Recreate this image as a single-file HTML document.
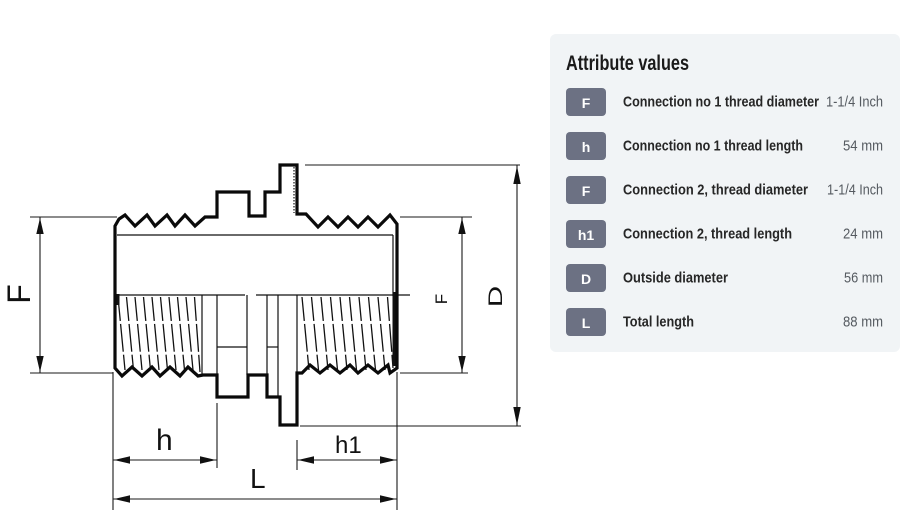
<!DOCTYPE html>
<html>
<head>
<meta charset="utf-8">
<style>
  html,body{margin:0;padding:0;background:#ffffff;}
  svg{display:block;}
</style>
</head>
<body>
<svg width="915" height="528" viewBox="0 0 915 528" xmlns="http://www.w3.org/2000/svg">
  <rect x="0" y="0" width="915" height="528" fill="#ffffff"/>

  <!-- ===== Technical drawing ===== -->
  <!-- thin internal lines -->
  <g stroke="#111" stroke-width="1.2" fill="none">
    <line x1="117" y1="235" x2="393" y2="235"/>
    <line x1="393" y1="235" x2="393" y2="296"/>
    <line x1="116" y1="295" x2="245" y2="295"/>
    <line x1="256" y1="295" x2="410" y2="295"/>
    <line x1="202" y1="295" x2="202" y2="374"/>
    <line x1="217" y1="295" x2="217" y2="375"/>
    <line x1="247" y1="295" x2="247" y2="375"/>
    <line x1="267" y1="295" x2="267" y2="375"/>
    <line x1="278" y1="295" x2="278" y2="397"/>
    <line x1="297" y1="295" x2="297" y2="375"/>
    <line x1="217" y1="347" x2="247" y2="347"/>
    <line x1="267" y1="347" x2="278" y2="347"/>
    <line x1="294" y1="167" x2="294" y2="213" stroke-dasharray="1.5 1.5"/>
  </g>

  <!-- thread hatching -->
  <g stroke="#111" stroke-width="1.3" fill="none" stroke-dasharray="24 3 28 3 20 2">
    <path d="M118 297 L125 370 M126.5 297 L133.5 370 M135 297 L142 370 M143.5 297 L150.5 370 M152 297 L159 370 M160.5 297 L167.5 370 M169 297 L176 370 M177.5 297 L184.5 370 M186 297 L193 370 M194.5 297 L200 372"/>
    <path d="M302 297 L309 370 M311.5 297 L318.5 370 M321 297 L328 370 M330.5 297 L337.5 370 M340 297 L347 370 M349.5 297 L356.5 370 M359 297 L366 370 M368.5 297 L375.5 370 M378 297 L385 370 M387.5 297 L393 368"/>
  </g>
  <line x1="118" y1="294" x2="118" y2="305" stroke="#111" stroke-width="3"/>
  <line x1="394" y1="292" x2="394" y2="366" stroke="#111" stroke-width="3"/>

  <!-- main thick outline -->
  <path d="M115 368 L115 226 L119 219 L125 215 L135 226 L147 215 L155 226 L167 215 L175 226 L185 215 L195 226 L205 217 L217 217 L217 192 L249 192 L249 216 L265 216 L265 192 L280 192 L280 165 L297 165 L297 214 L306 214 L318 227 L328 217 L338 227 L348 217 L358 227 L368 217 L378 227 L390 215 L397 224 L397 368 L390 373 L388 365 L378 373 L368 365 L358 373 L350 365 L340 373 L330 365 L320 373 L310 365 L302 373 L297 373 L297 425 L280 425 L280 397 L267 397 L267 375 L248 375 L248 397 L217 397 L217 375 L203 375 L198 376 L188 367 L180 376 L170 367 L160 376 L152 367 L142 376 L132 367 L122 376 L115 368 Z"
        fill="none" stroke="#0a0a0a" stroke-width="3.2" stroke-linejoin="miter"/>

  <!-- dimension / extension lines -->
  <g stroke="#1a1a1a" stroke-width="1.1" fill="none">
    <line x1="30" y1="217" x2="117" y2="217"/>
    <line x1="30" y1="373" x2="113" y2="373"/>
    <line x1="40" y1="217" x2="40" y2="373"/>
    <line x1="400" y1="217" x2="472" y2="217"/>
    <line x1="400" y1="373" x2="468" y2="373"/>
    <line x1="462" y1="217" x2="462" y2="373"/>
    <line x1="305" y1="165" x2="520" y2="165"/>
    <line x1="300" y1="426" x2="521" y2="426"/>
    <line x1="517" y1="165" x2="517" y2="426"/>
    <line x1="113" y1="372" x2="113" y2="510"/>
    <line x1="397" y1="372" x2="397" y2="510"/>
    <line x1="217" y1="403" x2="217" y2="468"/>
    <line x1="297" y1="440" x2="297" y2="470"/>
    <line x1="113" y1="460" x2="217" y2="460"/>
    <line x1="297" y1="460" x2="397" y2="460"/>
    <line x1="113" y1="499" x2="397" y2="499"/>
  </g>

  <!-- arrowheads -->
  <g fill="#111">
    <polygon points="40,218 36.3,234 43.7,234"/>
    <polygon points="40,372 36.3,356 43.7,356"/>
    <polygon points="462,218 458.3,234 465.7,234"/>
    <polygon points="462,372 458.3,356 465.7,356"/>
    <polygon points="517,166 513.3,184 520.7,184"/>
    <polygon points="517,425 513.3,407 520.7,407"/>
    <polygon points="114,460 130,456.3 130,463.7"/>
    <polygon points="216,460 200,456.3 200,463.7"/>
    <polygon points="298,460 314,456.3 314,463.7"/>
    <polygon points="396,460 380,456.3 380,463.7"/>
    <polygon points="114,499 130,495.3 130,502.7"/>
    <polygon points="396,499 380,495.3 380,502.7"/>
  </g>

  <!-- diagram labels -->
  <g font-family="'Liberation Sans', sans-serif" fill="#111">
    <text transform="translate(30,294) rotate(-90)" text-anchor="middle" font-size="32">F</text>
    <text transform="translate(447,299) rotate(-90)" text-anchor="middle" font-size="17">F</text>
    <text transform="translate(502,296.5) rotate(-90) scale(1.55,1)" text-anchor="middle" font-size="19">D</text>
    <text x="156" y="450" font-size="30">h</text>
    <text x="335" y="453" font-size="24">h1</text>
    <text x="250" y="488" font-size="28">L</text>
  </g>

  <!-- ===== Attribute panel ===== -->
  <rect x="550" y="34" width="350" height="318" rx="6" ry="6" fill="#f1f4f6"/>
  <text x="566" y="70" font-family="'Liberation Sans', sans-serif" font-weight="bold" font-size="21" fill="#1a1a1a" textLength="123" lengthAdjust="spacingAndGlyphs">Attribute values</text>

  <g font-family="'Liberation Sans', sans-serif">
    <g fill="#6c7183">
      <rect x="566" y="88" width="40" height="28" rx="4"/>
      <rect x="566" y="132" width="40" height="28" rx="4"/>
      <rect x="566" y="176" width="40" height="28" rx="4"/>
      <rect x="566" y="220" width="40" height="28" rx="4"/>
      <rect x="566" y="264" width="40" height="28" rx="4"/>
      <rect x="566" y="308" width="40" height="28" rx="4"/>
    </g>
    <g fill="#ffffff" font-weight="bold" font-size="14" text-anchor="middle">
      <text x="586" y="108">F</text>
      <text x="586" y="152">h</text>
      <text x="586" y="196">F</text>
      <text x="586" y="240">h1</text>
      <text x="586" y="284">D</text>
      <text x="586" y="328">L</text>
    </g>
    <g fill="#262626" font-weight="bold" font-size="15">
      <text x="623" y="106.5" textLength="196" lengthAdjust="spacingAndGlyphs">Connection no 1 thread diameter</text>
      <text x="623" y="150.5" textLength="180" lengthAdjust="spacingAndGlyphs">Connection no 1 thread length</text>
      <text x="623" y="194.5" textLength="185" lengthAdjust="spacingAndGlyphs">Connection 2, thread diameter</text>
      <text x="623" y="238.5" textLength="169" lengthAdjust="spacingAndGlyphs">Connection 2, thread length</text>
      <text x="623" y="282.5" textLength="105" lengthAdjust="spacingAndGlyphs">Outside diameter</text>
      <text x="623" y="326.5" textLength="71" lengthAdjust="spacingAndGlyphs">Total length</text>
    </g>
    <g fill="#555a60" font-size="15" text-anchor="end">
      <text x="883" y="106.5" textLength="57" lengthAdjust="spacingAndGlyphs">1-1/4 Inch</text>
      <text x="883" y="150.5" textLength="40" lengthAdjust="spacingAndGlyphs">54 mm</text>
      <text x="883" y="194.5" textLength="56" lengthAdjust="spacingAndGlyphs">1-1/4 Inch</text>
      <text x="883" y="238.5" textLength="40" lengthAdjust="spacingAndGlyphs">24 mm</text>
      <text x="883" y="282.5" textLength="39" lengthAdjust="spacingAndGlyphs">56 mm</text>
      <text x="883" y="326.5" textLength="40" lengthAdjust="spacingAndGlyphs">88 mm</text>
    </g>
  </g>
</svg>
</body>
</html>
